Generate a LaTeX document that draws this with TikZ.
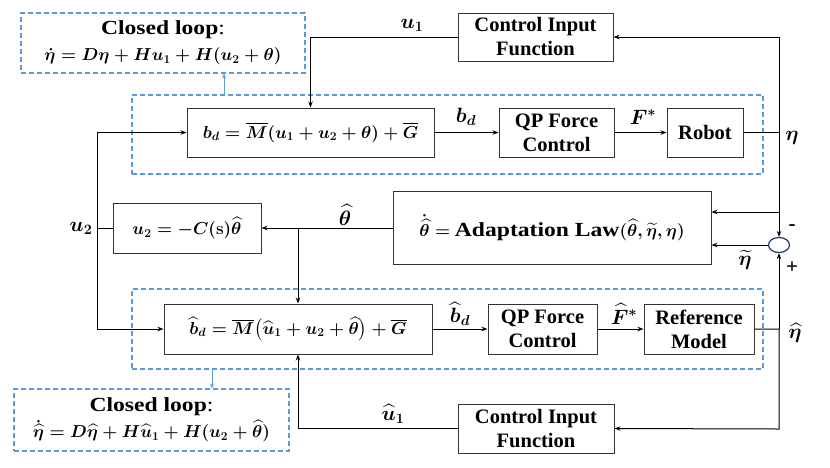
\documentclass[tikz,border=0pt]{standalone}
\usepackage{amsmath}
\usepackage{amssymb}
\usepackage{bm}
\usepackage[no-math]{fontspec}
\setmainfont{Liberation Serif}
\newfontfamily\wideserif[FakeStretch=1.18]{Liberation Serif}
\usetikzlibrary{arrows.meta,shapes.geometric}
\definecolor{loopblue}{HTML}{5B9BD5}
\definecolor{sumblue}{HTML}{203864}

\tikzset{
  block/.style={draw=black!80, line width=1pt, fill=white, align=center, inner sep=2pt,
    font=\fontsize{20.5}{24}\selectfont\bfseries\boldmath},
  eqblock/.style={block, font=\fontsize{18.5}{23}\selectfont\bfseries\boldmath},
  group/.style={draw=loopblue, line width=1.2pt, dash pattern=on 5pt off 3pt},
  loopbox/.style={group, align=center, inner sep=2pt,
    font=\fontsize{18.5}{26}\selectfont\boldmath},
  sig/.style={-{Stealth[length=6pt,width=4.5pt]}, line width=1pt},
  bluesig/.style={-{Stealth[length=5pt,width=4pt]}, draw=loopblue, line width=1pt},
  lbl/.style={font=\fontsize{21}{25}\selectfont\bfseries\boldmath, inner sep=1pt},
}

\begin{document}
\begin{tikzpicture}[x=1pt,y=-1pt]

	\useasboundingbox (0,0) rectangle (830,467);

	% Dashed groups
	\node[group, minimum width=631, minimum height=79] (groupTop) at (447.5,134.5) {};
	\node[group, minimum width=631, minimum height=80] (groupBot) at (447.5,329) {};

	% Closed loop notes
	\node[loopbox, minimum width=284, minimum height=60] (loopTop) at (163,43)
		{{\wideserif\fontsize{20}{26}\selectfont\textbf{Closed loop}:}\\
		 $\dot{\eta} = D\eta + Hu_1 + H(u_2 + \theta)$};
	\node[loopbox, minimum width=275, minimum height=62] (loopBot) at (151.5,420)
		{{\wideserif\fontsize{20}{26}\selectfont\textbf{Closed loop}:}\\
		 $\dot{\widehat{\eta}} = D\widehat{\eta} + H\widehat{u}_1 + H(u_2 + \widehat{\theta})$};

	% Blocks
	\node[block, minimum width=155, minimum height=48] (cifTop) at (535.5,37) {Control Input\\Function};
	\node[eqblock, minimum width=247, minimum height=49] (bd) at (310.5,132.5)
		{$b_d = \overline{M}(u_1 + u_2 + \theta) + \overline{G}$};
	\node[block, minimum width=115, minimum height=49] (qpTop) at (556.5,132.5) {QP Force\\Control};
	\node[block, minimum width=76, minimum height=49] (robot) at (705,132.5) {Robot};
	\node[eqblock, minimum width=148, minimum height=50] (u2box) at (187,228)
		{$u_2 = -C(\mathrm{s})\widehat{\theta}$};
	\node[eqblock, minimum width=318, minimum height=73] (adapt) at (552,228)
		{$\dot{\widehat{\theta}} = $ {\wideserif\fontsize{20}{24}\selectfont Adaptation Law}$(\widehat{\theta}, \widetilde{\eta}, \eta)$};
	\node[eqblock, minimum width=268, minimum height=50] (bdhat) at (298,329)
		{$\widehat{b}_d = \overline{M}\bigl(\widehat{u}_1 + u_2 + \widehat{\theta}\bigr) + \overline{G}$};
	\node[block, minimum width=109, minimum height=50] (qpBot) at (542.5,329) {QP Force\\Control};
	\node[block, minimum width=110, minimum height=50] (refmodel) at (699,329) {Reference\\Model};
	\node[block, minimum width=156, minimum height=49] (cifBot) at (536,428.5) {Control Input\\Function};
	\node[draw=sumblue, fill=white, line width=1.2pt, ellipse, inner sep=0pt,
		minimum width=21, minimum height=15] (sum) at (779,245) {};

	% Bus points
	\coordinate (busTop) at (779,37);
	\coordinate (busBot) at (779,429);
	\coordinate (tapEta) at (779,212);
	\coordinate (busL) at (97,228);
	\coordinate (tapTop) at (224,95);
	\coordinate (tapBot) at (212,369);

	% Upper loop
	\draw[sig] (robot.east) -| (busTop) -- (cifTop.east);
	\draw[sig] (cifTop.west) -| (bd.north);
	\draw[sig] (bd.east) -- (qpTop.west);
	\draw[sig] (qpTop.east) -- (robot.west);

	% Error and adaptation
	\draw[sig] (busTop) -- (sum.north);
	\draw[sig] (tapEta) -- (tapEta -| adapt.east);
	\draw[sig] (sum.west) -- (sum.west -| adapt.east);
	\draw[sig] (adapt.west) -- (u2box.east);
	\draw[sig] (adapt.west -| bdhat.north) -- (bdhat.north);
	\draw[line width=1pt] (u2box.west) -- (busL);
	\draw[sig] (busL) |- (bd.west);
	\draw[sig] (busL) |- (bdhat.west);

	% Lower loop
	\draw[sig] (bdhat.east) -- (qpBot.west);
	\draw[sig] (qpBot.east) -- (refmodel.west);
	\draw[sig] (refmodel.east) -| (busBot) -- (cifBot.east);
	\draw[sig] (refmodel.east -| busBot) -- (sum.south);
	\draw[sig] (cifBot.west) -| (bdhat.south);

	% Links to notes
	\draw[bluesig] (tapTop) -- (tapTop |- loopTop.south);
	\draw[bluesig] (tapBot) -- (tapBot |- loopBot.north);

	% Signal labels
	\node[lbl] (lu1) at (412,25) {$u_1$};
	\node[lbl] (lbd) at (466,117) {$b_d$};
	\node[lbl] (lF) at (643,117) {$F^{*}$};
	\node[lbl] (leta) at (792,138) {$\eta$};
	\node[lbl] (lth) at (345,215) {$\widehat{\theta}$};
	\node[lbl] (lu2) at (81,228) {$u_2$};
	\node[lbl] (lerr) at (745,260) {$\widetilde{\eta}$};
	\node[lbl] (lminus) at (792,228) {-};
	\node[lbl] (lplus) at (792,268) {+};
	\node[lbl] (lbdh) at (460,314) {$\widehat{b}_d$};
	\node[lbl] (lFh) at (624,314) {$\widehat{F}^{*}$};
	\node[lbl] (letah) at (795,333) {$\widehat{\eta}$};
	\node[lbl] (lu1h) at (393,414) {$\widehat{u}_1$};

\end{tikzpicture}
\end{document}
